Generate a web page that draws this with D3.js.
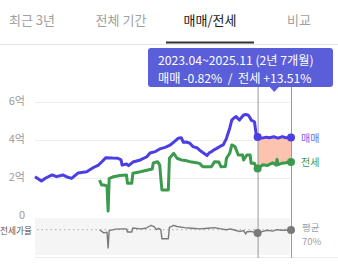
<!DOCTYPE html>
<html>
<head>
<meta charset="utf-8">
<style>
  body { margin: 0; background: #fff; }
  svg { display: block; }
  text { font-family: "Noto Sans CJK KR", "Noto Sans", sans-serif; }
  .tab { font-size: 13px; fill: #a0a0a0; text-anchor: middle; }
  .tab.on { fill: #222; }
  .tick { font-size: 11px; fill: #9a9a9a; text-anchor: end; dominant-baseline: middle; }
  .grid { stroke: #ececec; stroke-width: 1; }
</style>
<script src="https://cdn.jsdelivr.net/npm/d3@7"></script>
</head>
<body>
<div id="chart"></div>
<script>
var W = 338, H = 264;

var tabs = ["최근 3년", "전체 기간", "매매/전세", "비교"];
var activeTab = 2;
var yTicks = [0, 2, 4, 6];
var yTickLabels = ["0", "2억", "4억", "6억"];

// 매매 (억)
var saleDates = ["2006.01","2006.07","2006.11","2007.05","2007.09","2008.03","2008.07","2008.11","2009.05","2010.01",
  "2010.07","2010.12","2011.03","2011.07","2012.01","2012.06","2012.09","2012.10","2013.02","2013.04",
  "2013.08","2014.03","2014.09","2014.12","2015.05","2015.09","2016.02","2016.07","2016.10","2017.02",
  "2017.05","2017.07","2017.10","2018.01","2018.04","2018.08","2018.10","2019.01","2019.05","2019.07",
  "2019.09","2019.11","2020.02","2020.05","2020.08","2020.11","2021.02","2021.04","2021.06","2021.08",
  "2021.10","2021.11","2022.03","2022.05","2022.07","2022.09","2022.10","2023.01","2023.03","2023.04",
  "2023.08","2023.12","2024.03","2024.07","2024.11","2025.03","2025.06","2025.11"];
var saleValues = [2.07,1.84,2.0,2.16,2.07,2.16,2.05,1.98,2.26,2.33,
  2.54,2.68,2.84,3.07,3.05,3.04,2.95,2.68,2.74,2.65,
  2.84,2.95,3.12,3.32,3.39,3.53,3.61,3.74,3.89,4.09,
  4.12,3.88,3.89,3.83,3.65,3.58,3.47,3.34,3.18,3.32,
  3.38,3.47,3.56,3.66,3.74,4.09,4.62,5.05,5.16,5.23,
  5.11,5.05,5.32,5.34,5.32,5.16,5.05,4.96,4.17,4.16,
  4.10,4.15,4.12,4.17,4.10,4.18,4.12,4.13];

// 전세 (억)
var rentDates = ["2011.01","2011.03","2011.05","2011.08","2011.09","2011.10","2012.02","2012.08","2013.02","2013.03",
  "2013.07","2013.08","2014.03","2014.10","2015.02","2015.03","2015.07","2015.09","2015.10","2015.11",
  "2016.05","2016.06","2016.10","2017.01","2017.05","2017.09","2018.01","2018.06","2018.10","2019.01",
  "2019.09","2019.12","2020.04","2020.06","2020.10","2020.11","2021.02","2021.04","2021.07","2021.10",
  "2022.02","2022.03","2022.06","2022.09","2022.10","2023.01","2023.03","2023.04","2023.09","2024.01",
  "2024.03","2024.06","2024.09","2024.10","2024.11","2025.03","2025.06","2025.11"];
var rentValues = [1.89,1.63,1.63,1.58,0.26,1.97,2.07,2.13,2.16,1.72,
  1.72,2.25,2.33,2.42,2.47,2.79,2.86,2.68,2.0,1.37,
  1.37,3.04,3.3,3.04,2.95,2.92,2.86,2.82,2.77,2.59,
  2.59,2.86,2.84,2.59,2.61,3.04,3.3,3.74,3.65,3.21,
  3.21,2.95,3.21,3.21,2.77,2.77,2.53,2.50,2.70,2.66,
  2.72,2.80,2.68,2.98,2.70,2.78,2.80,2.84];

// 전세가율 (%)
var ratioDates = ["2011.01","2011.05","2011.08","2011.09","2011.10","2012.04","2012.11","2013.02","2013.03","2013.07",
  "2013.08","2014.03","2014.08","2015.01","2015.04","2015.06","2015.08","2015.10","2015.11","2016.05",
  "2016.06","2016.10","2017.01","2017.08","2018.03","2018.10","2019.06","2019.12","2020.06","2020.11",
  "2021.03","2021.07","2021.11","2022.03","2022.05","2022.06","2022.10","2023.01","2023.04","2023.09",
  "2024.01","2024.06","2024.10","2025.03","2025.11"];
var ratioValues = [70,59,61,7,67,72,73,73,62,62,
  76,73,75,85,80,70,75,70,39,39,
  78,85,81,77,75,73,75,77,73,70,
  73,68,64,67,55,63,64,61,59,64,
  68,65,70,68,69];
var ratioAvg = 70;

var periodStart = "2023.04", periodEnd = "2025.11";
var tipLine1 = "2023.04~2025.11 (2년 7개월)";
var tipLine2 = "매매 -0.82%  /  전세 +13.51%";

var SALE = "#4b3fe3", RENT = "#3b9a4c", GRAY = "#7a7a7a";

var parse = d3.timeParse("%Y.%m");

function rows(dates, vals) {
  return dates.map(function(d, i) { return { date: parse(d), value: vals[i] }; });
}

var sale = rows(saleDates, saleValues);
var rent = rows(rentDates, rentValues);
var ratio = rows(ratioDates, ratioValues);

var svg = d3.select("#chart").append("svg").attr("width", W).attr("height", H);

// tabs
var tabX = d3.scalePoint().domain(tabs).range([32, 299]);
svg.selectAll("text.tab").data(tabs).enter().append("text")
  .attr("class", function(d, i) { return i == activeTab ? "tab on" : "tab"; })
  .attr("x", function(d) { return tabX(d); })
  .attr("y", 25)
  .text(function(d) { return d; });
svg.append("line").attr("x1", 0).attr("x2", W).attr("y1", 44.5).attr("y2", 44.5)
  .attr("stroke", "#e6e6e6");
svg.append("line").attr("x1", tabX(tabs[activeTab]) - 44).attr("x2", tabX(tabs[activeTab]) + 44)
  .attr("y1", 42.5).attr("y2", 42.5).attr("stroke", "#333").attr("stroke-width", 2);

// scales
var x = d3.scaleTime().domain([parse("2006.01"), parse("2025.11")]).range([35, 291]);
var y = d3.scaleLinear().domain([0, 6]).range([216, 102]);
var yR = d3.scaleLinear().domain([0, 100]).range([250, 221]);

// grid + labels
svg.selectAll("line.grid").data(yTicks.filter(function(t) { return t > 0; })).enter().append("line")
  .attr("class", "grid")
  .attr("x1", 35).attr("x2", 290)
  .attr("y1", function(d) { return y(d) + 0.5; }).attr("y2", function(d) { return y(d) + 0.5; });
svg.selectAll("text.tick").data(yTicks).enter().append("text")
  .attr("class", "tick")
  .attr("x", 25).attr("y", function(d) { return y(d); })
  .text(function(d, i) { return yTickLabels[i]; });

// lower panel
svg.append("rect").attr("x", 35).attr("y", 218).attr("width", 255).attr("height", 37).attr("fill", "#f5f5f5");
svg.append("line").attr("x1", 35).attr("x2", W).attr("y1", 257.5).attr("y2", 257.5).attr("stroke", "#ececec");
svg.append("line").attr("x1", 37).attr("x2", 290)
  .attr("y1", yR(ratioAvg)).attr("y2", yR(ratioAvg))
  .attr("stroke", "#aaa").attr("stroke-width", 1).attr("stroke-dasharray", "1.5,3");
svg.append("text").attr("x", 0).attr("y", yR(ratioAvg) + 4.5)
  .attr("font-size", 8.7).attr("fill", "#555").text("전세가율");

// period shading between the two lines
var t0 = parse(periodStart), t1 = parse(periodEnd);
var inP = function(d) { return d.date >= t0 && d.date <= t1; };
var poly = sale.filter(inP).map(function(d) { return [x(d.date), y(d.value)]; })
  .concat(rent.filter(inP).reverse().map(function(d) { return [x(d.date), y(d.value)]; }));
svg.append("path").attr("d", "M" + poly.join("L") + "Z").attr("fill", "#fcc4b0");

// vertical period lines
[t0, t1].forEach(function(t) {
  svg.append("line").attr("x1", x(t) + 0.5).attr("x2", x(t) + 0.5).attr("y1", 87).attr("y2", 258)
    .attr("stroke", "#9a9a9a").attr("stroke-width", 1);
});

var line = d3.line().x(function(d) { return x(d.date); }).y(function(d) { return y(d.value); });
var lineR = d3.line().x(function(d) { return x(d.date); }).y(function(d) { return yR(d.value); });

svg.append("path").datum(rent).attr("d", line).attr("fill", "none")
  .attr("stroke", RENT).attr("stroke-width", 3).attr("stroke-linejoin", "round");
svg.append("path").datum(sale).attr("d", line).attr("fill", "none")
  .attr("stroke", SALE).attr("stroke-width", 3).attr("stroke-linejoin", "round");
svg.append("path").datum(ratio).attr("d", lineR).attr("fill", "none")
  .attr("stroke", GRAY).attr("stroke-width", 1.4).attr("stroke-linejoin", "round");

// end-point dots
function dots(data, scale, color) {
  svg.selectAll(null).data(data.filter(function(d) { return +d.date == +t0 || +d.date == +t1; }))
    .enter().append("circle")
    .attr("cx", function(d) { return x(d.date); })
    .attr("cy", function(d) { return scale(d.value); })
    .attr("r", 4).attr("fill", color);
}
dots(sale, y, SALE);
dots(rent, y, RENT);
dots(ratio, yR, GRAY);

// right labels
svg.append("text").attr("x", 301).attr("y", y(saleValues[saleValues.length - 1]) + 4)
  .attr("font-size", 10).attr("fill", "#6d64ea").text("매매");
svg.append("text").attr("x", 301).attr("y", y(rentValues[rentValues.length - 1]) + 4)
  .attr("font-size", 10).attr("fill", RENT).text("전세");
svg.append("text").attr("x", 302).attr("y", 231).attr("font-size", 9.5).attr("fill", "#a0a0a0").text("평균");
svg.append("text").attr("x", 302).attr("y", 244.5).attr("font-size", 9.5).attr("fill", "#a0a0a0").text(ratioAvg + "%");

// tooltip
var tipCx = (x(t0) + x(t1)) / 2;
var tip = svg.append("g");
tip.append("rect").attr("x", 148).attr("y", 48).attr("width", 185).attr("height", 39)
  .attr("rx", 3).attr("fill", "#5a5ed8");
tip.append("path").attr("d", "M" + (tipCx - 5) + ",86.5L" + tipCx + ",92L" + (tipCx + 5) + ",86.5Z")
  .attr("fill", "#5a5ed8");
tip.append("text").attr("x", 158).attr("y", 65).attr("font-size", 12.2).attr("fill", "#fff").text(tipLine1);
tip.append("text").attr("x", 158).attr("y", 83).attr("font-size", 12.2).attr("fill", "#fff")
  .attr("xml:space", "preserve").style("white-space", "pre").text(tipLine2);
</script>
</body>
</html>
